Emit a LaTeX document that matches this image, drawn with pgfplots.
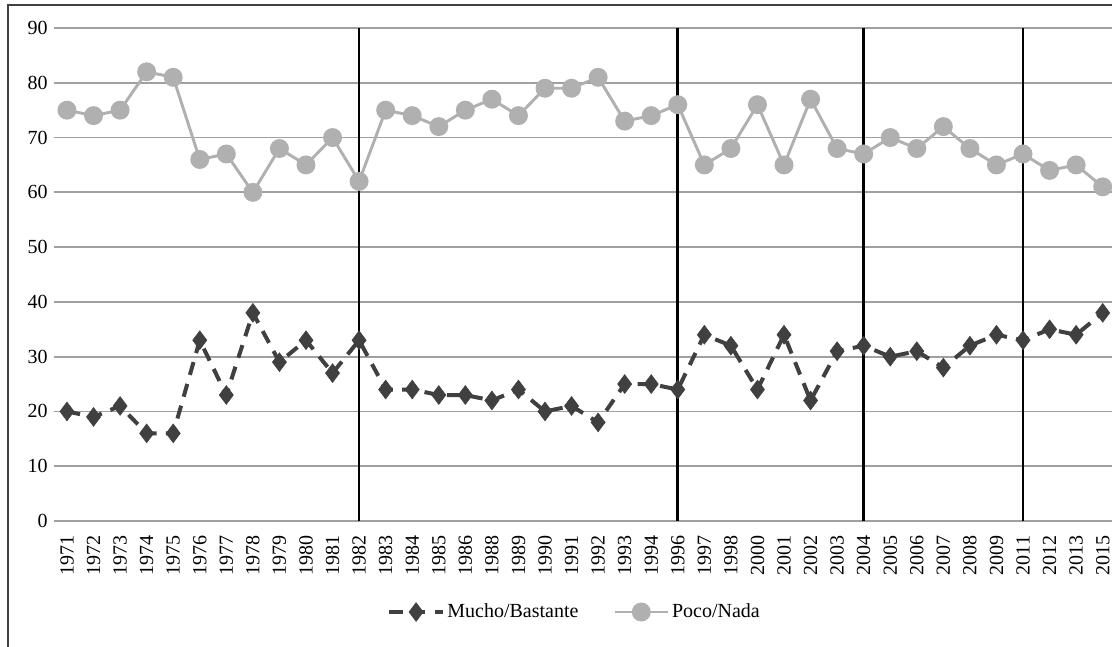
\documentclass[border=0pt]{standalone}
\usepackage{fontspec}
\setmainfont{Liberation Serif}
\usepackage{pgfplots}
\usepackage{pgfplotstable}
\pgfplotsset{compat=1.18}
\definecolor{mucho}{HTML}{404040}
\definecolor{poco}{HTML}{B0B0B0}
\definecolor{gridc}{HTML}{A0A0A0}
\pgfplotstableread{
x m p
0 20 75
1 19 74
2 21 75
3 16 82
4 16 81
5 33 66
6 23 67
7 38 60
8 29 68
9 33 65
10 27 70
11 33 62
12 24 75
13 24 74
14 23 72
15 23 75
16 22 77
17 24 74
18 20 79
19 21 79
20 18 81
21 25 73
22 25 74
23 24 76
24 34 65
25 32 68
26 24 76
27 34 65
28 22 77
29 31 68
30 32 67
31 30 70
32 31 68
33 28 72
34 32 68
35 34 65
36 33 67
37 35 64
38 34 65
39 38 61
}\data
\begin{document}
\begin{tikzpicture}[x=0.75pt,y=0.75pt]
\useasboundingbox (0,0) rectangle (1112,646);
\clip (0,0) rectangle (1112,646);
\draw[color=mucho, line width=1.2pt] (8,-10) -- (8,641) -- (1130,641);
\begin{axis}[
  at={(53.7*0.75pt,125*0.75pt)}, anchor=south west,
  scale only axis, width=796.7pt, height=369.75pt,
  xmin=-0.5, xmax=39.5, ymin=0, ymax=90,
  axis line style={draw=none},
  clip=false,
  ytick={0,10,...,90},
  xtick={0,...,39},
  xticklabels={1971,1972,1973,1974,1975,1976,1977,1978,1979,1980,1981,1982,1983,1984,1985,1986,1988,1989,1990,1991,1992,1993,1994,1996,1997,1998,2000,2001,2002,2003,2004,2005,2006,2007,2008,2009,2011,2012,2013,2015},
  major tick length=0pt,
  xtick pos=bottom, ytick pos=left,
  ymajorgrids, grid style={gridc, line width=1.4pt},
  /pgf/number format/assume math mode=true,
  tick label style={font=\fontsize{15}{18}\selectfont, black},
  xticklabel style={rotate=90, anchor=east, inner sep=0pt, xshift=-11pt},
  yticklabel style={anchor=east, inner sep=0pt, xshift=-4.3pt},
  legend style={draw=none, fill=none, at={(0.4907,-0.1846)}, anchor=center,
    font=\fontsize{15}{18}\selectfont, legend columns=2,
    /tikz/every even column/.append style={column sep=24pt},
    inner sep=0pt},
  legend cell align=left,
  legend image code/.code={\draw[#1, mark=none] (0pt,0pt) -- (40pt,0pt);
    \draw[#1, only marks] plot coordinates {(20pt,0pt)};},
]
\addplot[mucho, line width=3pt, dash pattern=on 10pt off 7pt,
  mark=diamond*, mark size=7pt, mark options={solid, fill=mucho, line width=0.5pt}]
  table[x=x, y=m] {\data};
\addlegendentry{Mucho/Bastante}
\addplot[poco, line width=2.2pt, mark=*, mark size=6pt, mark options={fill=poco, draw=poco}]
  table[x=x, y=p] {\data};
\addlegendentry{Poco/Nada}
\addplot[black, line width=2pt, forget plot] coordinates {(11,0) (11,90)};
\addplot[black, line width=2pt, forget plot] coordinates {(23,0) (23,90)};
\addplot[black, line width=2pt, forget plot] coordinates {(30,0) (30,90)};
\addplot[black, line width=2pt, forget plot] coordinates {(36,0) (36,90)};
\end{axis}
\end{tikzpicture}
\end{document}
